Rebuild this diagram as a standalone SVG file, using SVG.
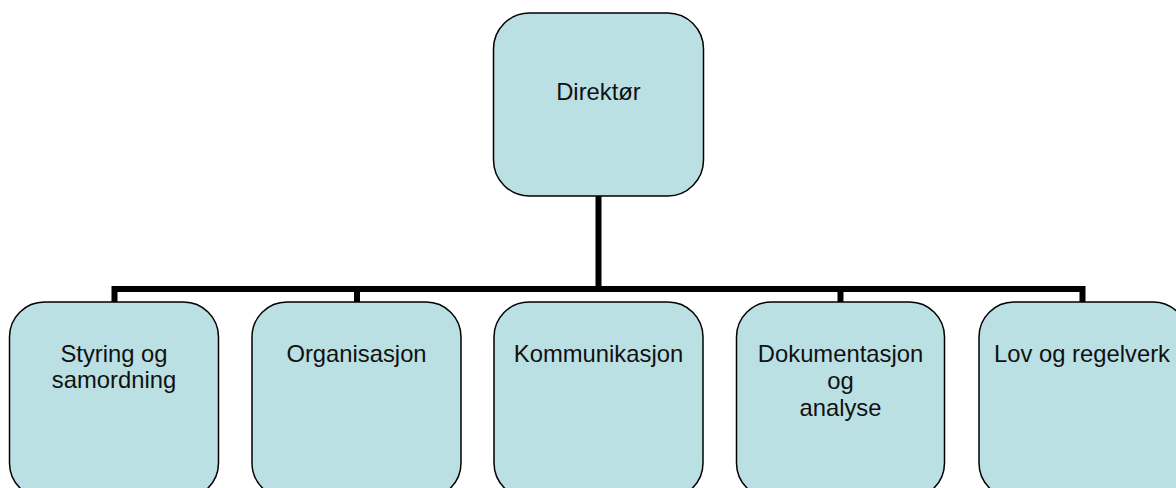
<svg xmlns="http://www.w3.org/2000/svg" width="1176" height="488" viewBox="0 0 1176 488">
<style>
.box{fill:#BAE0E3;stroke:#000;stroke-width:1.5}
.lbl{font-family:"Liberation Sans",Arial,sans-serif;font-size:23.8px;fill:#111;text-anchor:middle}
.conn{fill:none;stroke:#000;stroke-width:6}
</style>
<rect width="1176" height="488" fill="#fff"/>
<g id="connectors">
<line class="conn" x1="598.5" y1="196" x2="598.5" y2="289"/>
<polyline class="conn" points="114.5,302 114.5,289 1082.5,289 1082.5,302"/>
<line class="conn" x1="357" y1="289" x2="357" y2="302"/>
<line class="conn" x1="840.5" y1="289" x2="840.5" y2="302"/>
</g>
<g id="n0"><rect class="box" x="493.5" y="13" width="210" height="183" rx="36"/><text class="lbl" x="598.5" y="100">Direktør</text></g>
<g id="n1"><rect class="box" x="9.5" y="302" width="209" height="196" rx="35"/><text class="lbl" x="114" y="362">Styring og</text><text class="lbl" x="114" y="388">samordning</text></g>
<g id="n2"><rect class="box" x="252" y="302" width="209" height="196" rx="35"/><text class="lbl" x="356.5" y="362">Organisasjon</text></g>
<g id="n3"><rect class="box" x="494" y="302" width="209" height="196" rx="35"/><text class="lbl" x="598.5" y="362">Kommunikasjon</text></g>
<g id="n4"><rect class="box" x="736.5" y="302" width="208" height="196" rx="35"/><text class="lbl" x="840.5" y="362">Dokumentasjon</text><text class="lbl" x="840.5" y="389">og</text><text class="lbl" x="840.5" y="416">analyse</text></g>
<g id="n5"><rect class="box" x="979" y="302" width="209" height="196" rx="35"/><text class="lbl" x="1082" y="362">Lov og regelverk</text></g>
</svg>
